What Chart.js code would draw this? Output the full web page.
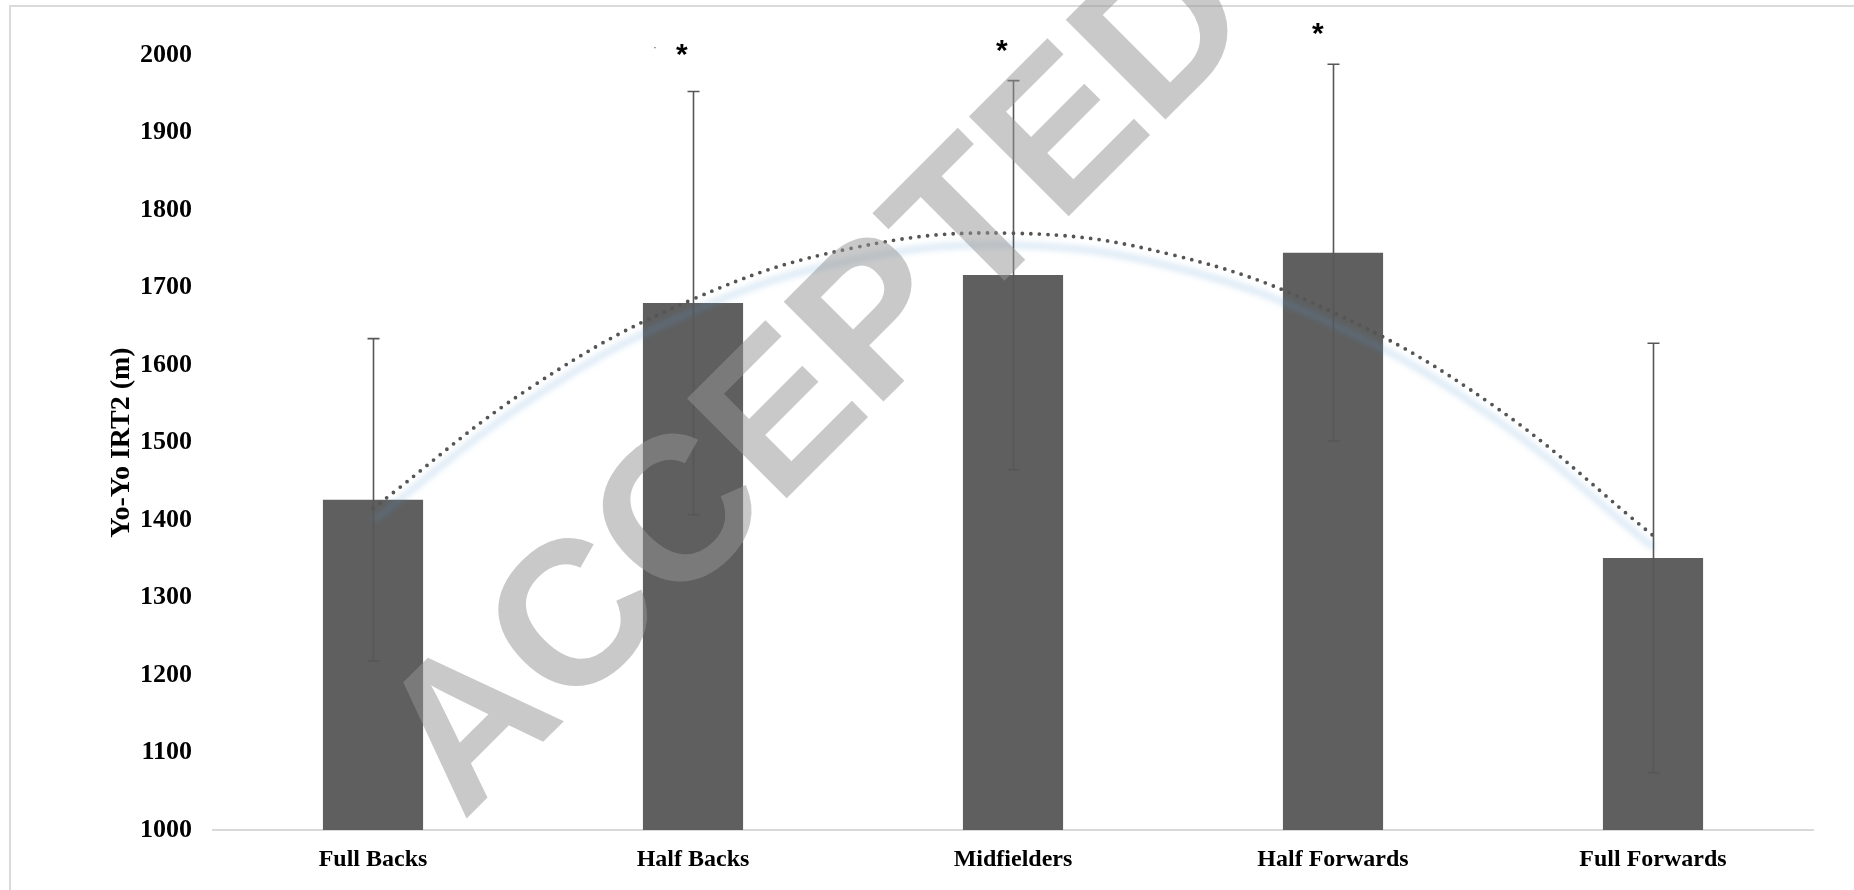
<!DOCTYPE html>
<html>
<head>
<meta charset="utf-8">
<script src="https://cdn.jsdelivr.net/npm/chart.js@4.4.1/dist/chart.umd.min.js"></script>
<style>
  html, body { margin: 0; padding: 0; background: #fff; }
  #wrap { position: relative; width: 1854px; height: 890px; overflow: hidden; }
  #frame { position: absolute; left: 9px; top: 5px; width: 2000px; height: 1000px;
           border-top: 2px solid #dadada; border-left: 2px solid #dadada; }
  #c { position: absolute; left: 0; top: 0; }
</style>
</head>
<body>
<div id="wrap">
  <div id="frame"></div>
  <canvas id="c" width="1854" height="890"></canvas>
</div>
<script>
// Playing positions and Yo-Yo IRT2 distance (mean ± SD, metres)
const positions = ['Full Backs', 'Half Backs', 'Midfielders', 'Half Forwards', 'Full Forwards'];
const meanDistance = [1426, 1680, 1716, 1745, 1351];
const sdDistance = [208, 273, 251, 243, 277];

// Polynomial trend line, sampled along the category positions
const trendPos = [0, 0.5, 1, 1.5, 2, 2.5, 3, 3.5, 4];
const trendValue = [1415, 1573, 1685, 1751, 1770, 1742, 1668, 1548, 1380];

// Y axis ticks
const yTicks = [1000, 1100, 1200, 1300, 1400, 1500, 1600, 1700, 1800, 1900, 2000];

// Significance marks above the bars
const markText = ['·', '*', '*', '*'];
const markIndex = [1, 1, 2, 3];
const markValue = [2009, 2007, 2011, 2034];

// Diagonal stamp across the plot
const stampText = 'ACCEPTED';

const SERIF = '"Liberation Serif", "Times New Roman", serif';
const SANS = '"Liberation Sans", Arial, sans-serif';

const errorBars = {
  id: 'errorBars',
  afterDatasetsDraw(chart, args, opts) {
    const meta = chart.getDatasetMeta(0);
    const y = chart.scales.y;
    const ctx = chart.ctx;
    ctx.save();
    ctx.strokeStyle = opts.color;
    ctx.lineWidth = opts.width;
    meta.data.forEach((bar, i) => {
      const top = y.getPixelForValue(meanDistance[i] + sdDistance[i]);
      const bot = y.getPixelForValue(meanDistance[i] - sdDistance[i]);
      const x = Math.round(bar.x) + 0.5;
      ctx.beginPath();
      ctx.moveTo(x, top); ctx.lineTo(x, bot);
      ctx.moveTo(x - opts.cap, top); ctx.lineTo(x + opts.cap, top);
      ctx.moveTo(x - opts.cap, bot); ctx.lineTo(x + opts.cap, bot);
      ctx.stroke();
    });
    ctx.restore();
  }
};

const glow = {
  id: 'glow',
  beforeDatasetDraw(chart, args, opts) {
    if (args.index !== opts.dataset) return;
    const ctx = chart.ctx;
    ctx.save();
    ctx.translate(opts.dx, opts.dy);
    ctx.filter = 'blur(' + opts.blur + 'px)';
  },
  afterDatasetDraw(chart, args, opts) {
    if (args.index !== opts.dataset) return;
    chart.ctx.restore();
  }
};

const marks = {
  id: 'marks',
  afterDatasetsDraw(chart, args, opts) {
    const {ctx, scales: {x, y}} = chart;
    ctx.save();
    ctx.textAlign = 'left';
    ctx.textBaseline = 'alphabetic';
    markText.forEach((t, k) => {
      ctx.font = opts.fonts[k];
      ctx.fillStyle = opts.colors[k];
      const px = x.getPixelForValue(markIndex[k]) + opts.dx[k];
      const py = y.getPixelForValue(markValue[k]);
      const m = ctx.measureText(t);
      const x0 = px - (m.actualBoundingBoxRight - m.actualBoundingBoxLeft) / 2;
      const y0 = py + (m.actualBoundingBoxAscent - m.actualBoundingBoxDescent) / 2;
      ctx.fillText(t, x0, y0);
    });
    ctx.restore();
  }
};

const stamp = {
  id: 'stamp',
  afterDraw(chart, args, opts) {
    const ctx = chart.ctx;
    ctx.save();
    ctx.translate(opts.x, opts.y);
    ctx.rotate(opts.angle * Math.PI / 180);
    ctx.font = opts.font;
    ctx.fillStyle = opts.color;
    ctx.textAlign = 'left';
    ctx.textBaseline = 'alphabetic';
    ctx.fillText(stampText, 0, 0);
    ctx.restore();
  }
};

function build() {
  const trendPoints = trendPos.map((p, i) => ({x: p, y: trendValue[i]}));
  new Chart(document.getElementById('c'), {
    type: 'bar',
    data: {
      labels: positions,
      datasets: [
        {
          type: 'bar',
          data: meanDistance,
          backgroundColor: '#5f5f5f',
          borderWidth: 0,
          grouped: false,
          barPercentage: 0.313,
          categoryPercentage: 1,
          order: 3
        },
        {
          type: 'line',
          xAxisID: 'xt',
          data: trendPoints,
          borderColor: 'rgba(91,155,213,0.28)',
          borderWidth: 5,
          pointRadius: 0,
          tension: 0.4,
          fill: false,
          clip: false,
          order: 2
        },
        {
          type: 'line',
          xAxisID: 'xt',
          data: trendPoints,
          borderColor: '#555555',
          borderWidth: 3.8,
          borderDash: [0, 8.6],
          borderCapStyle: 'round',
          pointRadius: 0,
          tension: 0.4,
          fill: false,
          clip: false,
          order: 1
        }
      ]
    },
    options: {
      responsive: false,
      devicePixelRatio: 1,
      animation: false,
      events: [],
      layout: { padding: { left: 100, right: 41, top: 55, bottom: 0 } },
      plugins: {
        legend: { display: false },
        tooltip: { enabled: false },
        errorBars: { color: '#575757', width: 1.6, cap: 6 },
        glow: { dataset: 1, dx: 0, dy: 12, blur: 3 },
        marks: {
          fonts: ['bold 7px ' + SANS, 'bold 30px ' + SANS, 'bold 30px ' + SANS, 'bold 30px ' + SANS],
          colors: ['#444', '#000', '#000', '#000'],
          dx: [-38, -11, -11, -15]
        },
        stamp: { x: 463, y: 822, angle: -45, font: 'bold 205px ' + SANS, color: 'rgba(150,150,150,0.51)' }
      },
      scales: {
        x: {
          type: 'category',
          offset: true,
          grid: { display: false, drawTicks: false },
          border: { display: true, color: '#d9d9d9', width: 2 },
          ticks: { color: '#000', padding: 15, font: { family: SERIF, size: 24, weight: 'bold' } },
          afterFit(s) { s.height = 60; }
        },
        xt: { type: 'linear', min: -0.5, max: 4.5, offset: false, display: false },
        y: {
          min: 1000,
          max: 2000,
          grid: { display: false, drawTicks: false },
          border: { display: false },
          afterBuildTicks(s) { s.ticks = yTicks.map(v => ({ value: v })); },
          ticks: {
            color: '#000', padding: 21,
            font: { family: SERIF, size: 26, weight: 'bold' },
            callback: v => String(v)
          },
          title: {
            display: true,
            text: 'Yo-Yo IRT2 (m)',
            color: '#000',
            padding: { top: 5, bottom: 0 },
            font: { family: SERIF, size: 28, weight: 'bold' }
          },
          afterFit(s) { s.width = 113; }
        }
      }
    },
    plugins: [glow, errorBars, marks, stamp]
  });
}

Promise.all([
  document.fonts.load('bold 24px "Liberation Serif"'),
  document.fonts.load('bold 30px "Liberation Sans"')
]).then(build, build);
</script>
</body>
</html>
